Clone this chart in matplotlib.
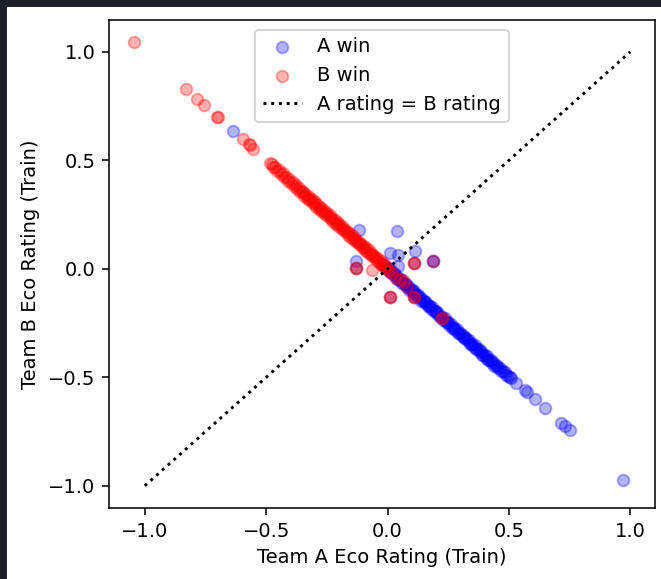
import numpy as np
import matplotlib
matplotlib.use('Agg')
import matplotlib.pyplot as plt
from matplotlib.patches import Rectangle
from matplotlib.ticker import MultipleLocator

# (team A rating, team B rating) for games won by A
a_win = [
    (-0.636, 0.637), (-0.020, 0.017), (-0.010, 0.012),
    (-0.119, 0.179), (0.040, 0.176), (0.012, 0.075), (0.043, 0.065),
    (0.112, 0.083), (-0.130, 0.034), (0.045, 0.014),
    (-0.130, 0.002), (0.012, -0.132), (0.109, -0.132), (0.186, 0.037),
    (0.186, 0.037), (0.109, 0.029),
    (0.000, 0.004), (0.005, -0.009), (0.010, -0.003), (0.015, -0.021),
    (0.020, -0.020), (0.025, -0.021), (0.030, -0.034), (0.035, -0.028),
    (0.040, -0.046), (0.045, -0.045), (0.050, -0.046), (0.055, -0.059),
    (0.060, -0.053), (0.065, -0.071), (0.070, -0.070), (0.075, -0.071),
    (0.080, -0.084), (0.085, -0.078), (0.090, -0.096), (0.095, -0.095),
    (0.100, -0.096), (0.105, -0.109), (0.110, -0.103), (0.115, -0.121),
    (0.120, -0.120), (0.125, -0.121), (0.130, -0.134), (0.135, -0.128),
    (0.140, -0.146), (0.145, -0.145), (0.150, -0.146), (0.155, -0.159),
    (0.160, -0.153), (0.165, -0.171), (0.170, -0.170), (0.175, -0.171),
    (0.180, -0.184), (0.185, -0.178), (0.190, -0.196), (0.195, -0.195),
    (0.200, -0.196), (0.205, -0.209), (0.210, -0.203), (0.215, -0.221),
    (0.220, -0.220), (0.225, -0.221), (0.230, -0.234), (0.235, -0.228),
    (0.240, -0.246), (0.245, -0.245), (0.250, -0.246), (0.255, -0.259),
    (0.260, -0.253), (0.265, -0.271), (0.270, -0.270), (0.275, -0.271),
    (0.280, -0.284), (0.285, -0.278), (0.290, -0.296), (0.295, -0.295),
    (0.300, -0.296), (0.305, -0.309), (0.310, -0.303), (0.315, -0.321),
    (0.320, -0.320), (0.325, -0.321), (0.330, -0.334), (0.335, -0.328),
    (0.340, -0.346), (0.345, -0.345), (0.350, -0.346), (0.355, -0.359),
    (0.360, -0.353), (0.365, -0.371), (0.370, -0.370), (0.375, -0.371),
    (0.380, -0.384), (0.385, -0.378), (0.390, -0.396), (0.395, -0.395),
    (0.400, -0.396), (0.405, -0.409), (0.410, -0.403), (0.415, -0.421),
    (0.420, -0.420), (0.425, -0.421), (0.430, -0.434), (0.435, -0.428),
    (0.440, -0.446), (0.445, -0.445), (0.450, -0.446), (0.456, -0.459),
    (0.462, -0.455), (0.468, -0.471), (0.475, -0.470), (0.482, -0.477),
    (0.490, -0.487), (0.498, -0.492), (0.505, -0.500), (0.510, -0.504),
    (0.530, -0.525), (0.568, -0.560), (0.573, -0.566), (0.606, -0.602),
    (0.647, -0.641), (0.716, -0.710), (0.730, -0.725), (0.751, -0.741),
    (0.972, -0.971),
]

# (team A rating, team B rating) for games won by B
b_win = [
    (-1.045, 1.045), (-0.830, 0.830), (-0.785, 0.784), (-0.758, 0.757),
    (-0.703, 0.699), (-0.700, 0.702), (-0.595, 0.599), (-0.570, 0.575),
    (-0.565, 0.570), (-0.553, 0.553),
    (-0.486, 0.487), (-0.478, 0.482), (-0.472, 0.470), (-0.463, 0.468),
    (-0.455, 0.452), (-0.447, 0.455), (-0.440, 0.437), (-0.432, 0.440),
    (-0.425, 0.421), (-0.418, 0.425), (-0.410, 0.406), (-0.404, 0.412),
    (-0.397, 0.394), (-0.390, 0.398), (-0.384, 0.380), (-0.377, 0.386),
    (-0.371, 0.366), (-0.365, 0.372), (-0.359, 0.355), (-0.354, 0.361),
    (-0.348, 0.352), (-0.343, 0.338), (-0.338, 0.346), (-0.333, 0.327),
    (-0.328, 0.336), (-0.323, 0.318), (-0.318, 0.325), (-0.313, 0.309),
    (-0.308, 0.316), (-0.303, 0.297), (-0.298, 0.306), (-0.293, 0.287),
    (-0.288, 0.296), (-0.283, 0.278), (-0.278, 0.285), (-0.273, 0.268),
    (-0.268, 0.276), (-0.263, 0.257), (-0.258, 0.265), (-0.253, 0.248),
    (-0.248, 0.256), (-0.243, 0.237), (-0.238, 0.246), (-0.233, 0.228),
    (-0.228, 0.235), (-0.223, 0.217), (-0.218, 0.226), (-0.213, 0.207),
    (-0.208, 0.215), (-0.203, 0.198), (-0.198, 0.205), (-0.193, 0.187),
    (-0.188, 0.196), (-0.183, 0.177), (-0.178, 0.185), (-0.173, 0.168),
    (-0.168, 0.176), (-0.163, 0.157), (-0.158, 0.166), (-0.153, 0.148),
    (-0.148, 0.155), (-0.143, 0.137), (-0.138, 0.146), (-0.133, 0.128),
    (-0.128, 0.135), (-0.123, 0.117), (-0.118, 0.126), (-0.113, 0.108),
    (-0.108, 0.115), (-0.103, 0.097), (-0.098, 0.106), (-0.093, 0.088),
    (-0.088, 0.095), (-0.083, 0.077), (-0.078, 0.086), (-0.073, 0.068),
    (-0.068, 0.075), (-0.063, 0.057), (-0.058, 0.066), (-0.053, 0.048),
    (-0.048, 0.055), (-0.043, 0.037), (-0.038, 0.046), (-0.033, 0.028),
    (-0.028, 0.035), (-0.023, 0.018), (-0.018, 0.025), (-0.013, 0.008),
    (-0.008, 0.015), (-0.004, 0.000),
    (0.008, -0.012), (0.020, -0.018), (0.035, -0.040), (0.050, -0.047),
    (0.066, -0.055), (0.080, -0.085), (0.226, -0.225), (0.226, -0.225),
    (0.109, 0.029), (0.109, 0.029), (-0.130, 0.002), (-0.130, 0.002),
    (-0.063, -0.006), (0.012, -0.132), (0.012, -0.132), (0.109, -0.132),
    (0.109, -0.132), (0.186, 0.037),
]

line_x = [-1.0, 1.0]
line_y = [-1.0, 1.0]

a_x, a_y = zip(*a_win)
b_x, b_y = zip(*b_win)

fig = plt.figure(figsize = (661 / 140, 579 / 140), dpi = 140)
ax = fig.add_axes([0.165, 0.1226, 0.826, 0.843])

ax.scatter(a_x, a_y, color = 'blue', alpha = 0.3, label = 'A win')
ax.scatter(b_x, b_y, color = 'red', alpha = 0.3, label = 'B win')
ax.plot(line_x, line_y, 'k:', label = 'A rating = B rating')

ax.xaxis.set_major_locator(MultipleLocator(0.5))
ax.yaxis.set_major_locator(MultipleLocator(0.5))
ax.set_xlabel('Team A Eco Rating (Train)')
ax.set_ylabel('Team B Eco Rating (Train)')
ax.legend(loc = 'upper center')

# dark notebook frame around the screenshot
fig.patches.append(Rectangle((0, 0), 6 / 661, 1, transform = fig.transFigure,
                             color = '#1c212b', zorder = -1))
fig.patches.append(Rectangle((0, 1 - 6 / 579), 1, 6 / 579, transform = fig.transFigure,
                             color = '#1c212b', zorder = -1))

fig.savefig('out.png', dpi = 140)
